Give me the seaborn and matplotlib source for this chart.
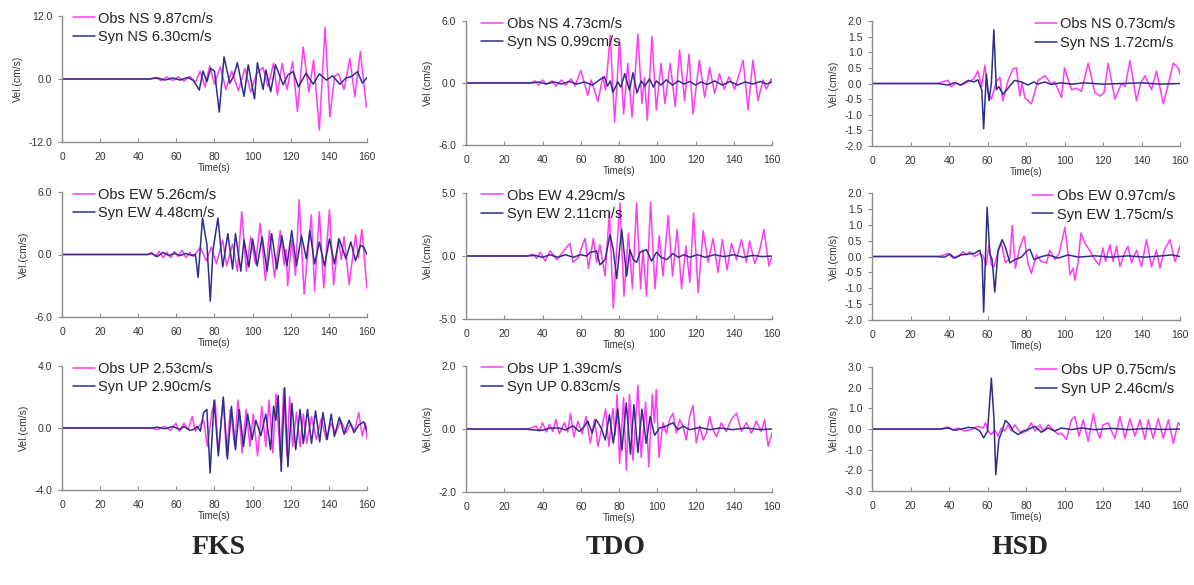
import numpy as np
import pandas as pd
import seaborn as sns
import matplotlib.pyplot as plt

# ---------------------------------------------------------------------------
# Velocity waveforms (time in s, velocity in cm/s), observed vs synthetic.
# Each series is listed as (time, velocity) turning points of the trace.
# ---------------------------------------------------------------------------
FKS_NS_OBS = [(0, 0), (46, 0), (49, 0.3), (52, -0.3), (55, 0.4), (58, -0.3), (61, 0.4), (64, -0.4),
              (67, 0.5), (70, -0.6), (72.5, 1.5), (75, -1.5), (77.5, 2.5), (80, -1.0), (83, 2.3),
              (86, -2.0), (89, 1.5), (92.5, -2.2), (96, 2.0), (99, -2.5), (102, 1.0), (105.5, 2.2),
              (108, -1.5), (111, 3.0), (113, -3.0), (115.5, 3.0), (118, -2.0), (121, 3.3),
              (123.5, -6.2), (126.5, 6.1), (129.5, -2.5), (132, 3.6), (135, -9.7), (138, 9.87),
              (140.5, -7.2), (143, 0.5), (145, 1.0), (148, -2.0), (151, 3.9), (153.6, -3.4),
              (156.5, 5.2), (159.7, -5.3), (160, -5.0)]
FKS_NS_SYN = [(0, 0), (46, 0), (50, 0.2), (54, -0.2), (58, 0.2), (62, -0.2), (66, 0.3), (69, -0.3),
              (72, -2.1), (74, 1.5), (76, -0.5), (78, 2.0), (80, 1.5), (82.5, -6.30), (85, 4.2),
              (88, -0.8), (90, 0.5), (92, 3.1), (95.5, -3.3), (97.7, 2.7), (101, -3.8), (102.5, 3.1),
              (105.5, -2.0), (107, 1.7), (109.5, -2.4), (112, 2.7), (116, -1.1), (118.5, 0.8),
              (121.3, 1.4), (124, -1.5), (128, 1.1), (131.8, -1.0), (135, 1.0), (138.7, -0.2),
              (142, 0.6), (145.7, -1.0), (149, 0.2), (152, 0.5), (155, 1.4), (157.6, -0.8), (160, 0.3)]

TDO_NS_OBS = [(0, 0), (34, 0), (36, 0.2), (38, -0.2), (40, 0.3), (42, -0.1), (45, 0.2), (47, -0.3),
              (50, 0.3), (52, -0.2), (55, 0.4), (57, -0.3), (60, 1.2), (63.7, -1.2), (65.4, 0.3),
              (69, -1.8), (71.5, 0.6), (73, -0.7), (75.4, 4.6), (77.7, -3.8), (80.3, 4.1),
              (82.4, -3.0), (84.6, 1.9), (86.8, -3.3), (89.9, 4.73), (92, -2.0), (93.3, 0.5),
              (94.8, -3.6), (97.2, 4.5), (99.5, -2.6), (102, 1.9), (104, -2.0), (106.8, 1.9),
              (109.4, -2.3), (111.7, 3.2), (114.3, -1.7), (116.6, 2.8), (118.7, -3.0), (122, 2.2),
              (124.8, -1.4), (127.4, 1.5), (130, -1.0), (132.5, 0.9), (135, -0.6), (137.5, 0.6),
              (140.5, -0.6), (144.9, 2.2), (147.5, -2.6), (150, 2.2), (152.7, -1.7), (155.3, 0.3),
              (157, -0.6), (159.7, 0.4), (160, 0.3)]
TDO_NS_SYN = [(0, 0), (34, 0), (38, 0.1), (42, -0.1), (46, 0.1), (50, -0.1), (54, 0.15), (58, -0.1),
              (62, 0.1), (66, -0.2), (69.8, 0.3), (72.4, 0.6), (74, -0.3), (75.5, 0.2), (76.8, -0.9),
              (79.4, 0.1), (81, -0.4), (83, 0.9), (85.5, -0.7), (87.3, 0.99), (89.4, -0.95),
              (91.6, 0.2), (93.5, -0.3), (96, 0.4), (98, -0.4), (99.5, 0.2), (102, -0.2),
              (104.7, 0.3), (108, -0.2), (111, 0.2), (114, -0.1), (117, 0.15), (120, -0.2),
              (123, 0.1), (126, -0.15), (130, 0.2), (134, -0.2), (138, 0.15), (142, -0.2),
              (146, 0.1), (150, -0.1), (154, 0.15), (157, -0.1), (160, 0.1)]

HSD_NS_OBS = [(0, 0), (34, 0), (39.5, 0.1), (41, -0.1), (44, 0.02), (46, -0.06), (50, 0.05),
              (53, 0.15), (55, 0.4), (57, -0.1), (58.6, 0.58), (60.3, -0.3), (62, -0.5),
              (64.6, 0.05), (66.4, 0.2), (68, -0.55), (70.7, 0.1), (73.3, 0.47), (75, 0.5),
              (76.8, -0.4), (78, 0.0), (79.4, -0.45), (82.8, -0.65), (86.3, 0.1), (89.8, 0.25),
              (93, 0.0), (95, 0.05), (98.4, -0.45), (100, 0.5), (103.6, -0.2), (106, -0.15),
              (108.8, -0.25), (112.3, 0.65), (115.8, -0.3), (118.4, -0.4), (120.5, -0.3),
              (122.7, 0.65), (126.2, -0.5), (129.6, 0.0), (131.5, -0.1), (134, 0.73),
              (137.4, -0.55), (139.5, 0.0), (141.8, 0.25), (145.2, -0.2), (147.8, 0.4),
              (151.3, -0.65), (154, 0.0), (156.5, 0.65), (159, 0.5), (160, 0.3)]
HSD_NS_SYN = [(0, 0), (34, 0), (39.5, -0.05), (43, 0.03), (46, -0.05), (50, 0.1), (53, 0.05),
              (55, 0.12), (57, -0.2), (58, -1.45), (59.4, 0.3), (60.8, -0.55), (62, 0.0),
              (63.3, 1.72), (64.6, -0.2), (65.9, -0.1), (68, -0.35), (70.7, -0.15), (74, 0.1),
              (77.6, 0.05), (81, -0.05), (84, 0.05), (86, -0.02), (89.8, 0.05), (93, -0.03),
              (98, 0.02), (104, -0.02), (110, 0.02), (120, -0.02), (130, 0.0), (140, 0.02),
              (150, -0.02), (160, 0.0)]

FKS_EW_OBS = [(0, 0), (45, 0), (47, 0.2), (49, -0.2), (51, 0.3), (53, -0.3), (55, 0.2), (57, -0.3),
              (59, 0.3), (61, -0.2), (63, 0.4), (65, -0.3), (67, 0.2), (69, -0.2), (70.6, 0.2),
              (72.6, 0.7), (75.7, -0.6), (78.3, 0.7), (81, -0.9), (84.3, 1.4), (86.4, -1.1),
              (89.5, 1.0), (92, -1.6), (94.3, 4.1), (96.7, -1.6), (99, 1.7), (101.5, -0.9),
              (104, 3.0), (106.7, -2.5), (108.8, 2.3), (111.5, -2.2), (114.5, 2.3), (116.5, -1.0),
              (117.5, 0.5), (118.4, -3.0), (120.5, 1.4), (122.5, -2.0), (124.4, 5.26),
              (127, -3.8), (130.8, 3.8), (132.5, -3.5), (135, 4.1), (137.3, -3.2), (140.3, 4.3),
              (142.5, -2.9), (145, 1.5), (146.5, -0.5), (148, 1.7), (150.6, -2.9), (154, 1.9),
              (155.5, -0.3), (157.3, 2.4), (160, -3.3)]
FKS_EW_SYN = [(0, 0), (45, 0), (47, 0.1), (50, -0.2), (53, 0.2), (56, -0.1), (59, 0.1), (62, -0.1),
              (65, 0.1), (68, -0.1), (70, 0.0), (71.4, -2.2), (73.7, 3.5), (75.2, 1.8), (76, 1.0),
              (77.8, -4.48), (79.2, 0.4), (81.8, 3.5), (84.3, -1.2), (87, 2.0), (89.5, -1.4),
              (91, 2.0), (93.8, -1.6), (95.5, 1.4), (98, -1.2), (100, 1.5), (102.4, -1.1),
              (105, 1.7), (107.6, -1.6), (110, 2.0), (112.7, -1.4), (115.3, 1.8), (118, -1.1),
              (120.5, 2.3), (123, -1.1), (125.6, 1.8), (128.2, -0.4), (130, 2.3), (132.5, -0.9),
              (135, 1.2), (137.7, -1.1), (140.3, 1.5), (142.9, -0.9), (145.4, 1.5), (148.9, -0.4),
              (151.5, 1.2), (154, -0.6), (156.6, 0.9), (158.3, 0.7), (160, 0.0)]

TDO_EW_OBS = [(0, 0), (32, 0), (35, 0.15), (37, -0.2), (38.8, 0.3), (41.4, -0.4), (44, 0.4),
              (47.5, -0.3), (51, 0.4), (54.4, 1.0), (56, -0.5), (58.8, -0.1), (60.5, 0.7),
              (62.3, 1.4), (64, -1.0), (66.6, 1.4), (68.3, -0.5), (70, 0.9), (72.7, -1.6),
              (75, 3.5), (77, -4.15), (78.8, 0.5), (80.5, 4.2), (82.6, -3.2), (84.9, 1.8),
              (87, -2.6), (89.2, 4.2), (91.3, -2.6), (92.5, 0.5), (94.4, -3.2), (96.5, 4.29),
              (98.8, -2.6), (101, 1.6), (103, -1.6), (105.7, 3.2), (108, -1.6), (110.4, 2.1),
              (112.7, -2.6), (115, 0.8), (117, -2.1), (119, 3.4), (121.4, -2.9), (124, 2.0),
              (126.6, -0.5), (129.2, 1.4), (131.8, -1.3), (134, 1.3), (136.5, -1.1), (138.8, 1.0),
              (141.4, -0.3), (144, 1.3), (146.6, -0.5), (148.3, 1.2), (151, -0.6), (153.6, 0.5),
              (155.8, 2.1), (158.4, -0.8), (160, 0.0)]
TDO_EW_SYN = [(0, 0), (32, 0), (36, 0.05), (40, -0.1), (44, 0.1), (48, -0.1), (52, 0.1), (56, -0.1),
              (60, 0.1), (63, 0.0), (65, 0.3), (68.3, 0.4), (70, -0.7), (72.7, -0.3), (75.3, 1.7),
              (77, 0.5), (78.8, -1.8), (81.4, 2.11), (84, -1.6), (85.7, 0.5), (87.5, -0.3),
              (89.2, -0.5), (91, 0.3), (94.4, 0.5), (97, -0.4), (99.6, 0.3), (102, -0.1),
              (105, -0.3), (108, 0.2), (111, -0.1), (114, 0.1), (117, -0.1), (121, 0.1),
              (125, -0.1), (130, 0.1), (135, -0.05), (140, 0.1), (145, -0.1), (150, 0.05),
              (155, -0.05), (160, 0.0)]

HSD_EW_OBS = [(0, 0), (32.6, 0), (36, 0.02), (39.5, 0.1), (42, -0.05), (45.6, 0.05), (47.3, 0.15),
              (49, 0.05), (50.8, 0.15), (53.4, 0.0), (56, 0.1), (57.7, 0.02), (59.4, -0.27),
              (60.7, 0.37), (62, -0.27), (63.4, -0.32), (65.5, 0.15), (67.2, 0.42), (69.3, -0.2),
              (71.6, -0.05), (72.8, 0.97), (74.5, -0.37), (76.8, 0.3), (79, 0.64), (81, -0.2),
              (82.8, -0.53), (85.4, 0.05), (88, -0.16), (90.6, -0.2), (92.4, 0.2), (95, -0.1),
              (97.2, 0.1), (100.2, 0.92), (102, 0.0), (102.8, -0.58), (104.5, -0.37),
              (105.4, -0.75), (107, -0.2), (108.5, 0.74), (110.6, 0.42), (113, 0.2), (115.8, -0.1),
              (118, -0.27), (120, 0.27), (121.3, -0.16), (123.6, 0.37), (125.3, -0.16),
              (127, 0.32), (128.8, -0.32), (131.4, 0.15), (133, 0.32), (134.8, -0.2),
              (137.4, 0.2), (140, -0.32), (142.6, 0.53), (145.2, -0.32), (147.8, 0.2),
              (149.6, -0.37), (151.8, 0.2), (154.8, 0.53), (157.4, -0.16), (160, 0.32)]
HSD_EW_SYN = [(0, 0), (32.6, 0), (37.8, -0.02), (40.4, 0.08), (43, -0.05), (46.4, 0.05), (50, 0.08),
              (53.4, 0.1), (56, 0.2), (57.2, -0.1), (58, -1.75), (59.8, 1.55), (61.2, 0.1),
              (62.4, -0.1), (63.8, -1.12), (65.5, 0.2), (67.6, 0.53), (69.3, 0.3), (71.6, -0.2),
              (74.2, -0.1), (77.6, -0.02), (80.2, 0.16), (82, 0.23), (84.2, -0.1), (87.2, -0.02),
              (91.5, 0.05), (96.7, -0.05), (101.9, 0.05), (107.1, -0.02), (115.8, 0.02),
              (124.4, -0.02), (133, 0.02), (141.8, -0.02), (150.4, 0.02), (155.6, 0.05), (160, 0.0)]

FKS_UP_OBS = [(0, 0), (46.8, 0), (50, -0.1), (53.7, 0.1), (57, -0.15), (59.7, 0.3), (61.4, -0.2),
              (64, 0.3), (66.2, -0.1), (68.3, 0.75), (70, -0.2), (71.7, 0.1), (74.3, 0.5),
              (76.3, -1.2), (78.6, 1.0), (80.3, 1.8), (82, -1.6), (84.6, 1.9), (86.3, -1.8),
              (88.3, 1.2), (90.6, -1.2), (92.3, 1.8), (94.5, -1.6), (96.6, 1.2), (98.6, -1.2),
              (100.3, 0.9), (102.6, -1.8), (104.8, 1.4), (106.9, -1.2), (108.6, 1.8), (110.6, -1.6),
              (112.3, 2.2), (114.6, -2.0), (116.3, 2.53), (118, -1.8), (119.4, 2.0), (121, -1.2),
              (123, 1.0), (124.9, -1.2), (126.6, 0.9), (128.3, -1.0), (130.9, 0.75),
              (133.4, -0.75), (136, 0.6), (138.6, -0.75), (141, 0.3), (143.7, -0.3), (146.3, 0.5),
              (149, -0.3), (151.5, 0.3), (153.5, -0.2), (155.7, 1.0), (157.5, -0.5), (159.2, 0.3),
              (160, -0.7)]
FKS_UP_SYN = [(0, 0), (46.8, 0), (50, 0.05), (54, -0.05), (58, 0.1), (62, -0.1), (64, 0.1),
              (67, -0.15), (69, -0.1), (71, 0.1), (72.6, -0.2), (74.3, 1.0), (76, 1.2),
              (77.7, -2.90), (79.8, 1.8), (82, -1.8), (84.6, 2.0), (86.8, -2.0), (88.9, 1.4),
              (91, -1.4), (93, 1.2), (95.2, -1.2), (97.4, 0.9), (99.7, -0.75), (101.7, 0.5),
              (104.3, -0.5), (106.9, 0.9), (109.4, -1.4), (111, 1.4), (112.2, 0.5), (113.4, 2.1),
              (115, -2.8), (116.8, 2.6), (118.5, -2.5), (120.6, 1.6), (122.6, -1.4), (124.9, 1.2),
              (126.6, -1.0), (128.8, 1.2), (130.9, -1.0), (133, 1.1), (135.2, -0.9), (136.9, 1.0),
              (139.1, -0.75), (141.2, 0.9), (142.9, -0.55), (145.5, 0.7), (148, -0.4),
              (150.6, 0.5), (153.2, -0.3), (155.7, 0.2), (158.3, 0.4), (160, -0.2)]

TDO_UP_OBS = [(0, 0), (31.4, 0), (35, 0.05), (36.6, 0.1), (38.4, -0.08), (40, 0.2), (42, -0.1),
              (43.6, 0.15), (45.4, -0.08), (47, 0.3), (48.8, -0.15), (51.5, 0.2), (53.2, -0.1),
              (54.6, 0.5), (56.4, -0.25), (58.5, 0.25), (60.7, -0.15), (62.8, 0.4), (65, -0.45),
              (67.2, 0.3), (69, -0.55), (71.2, 0.1), (73, 0.63), (74.7, -0.55), (76.8, 0.65),
              (78, -0.2), (79, 1.1), (80.3, -1.1), (82.4, 1.0), (83.8, -1.3), (85.5, 1.1),
              (87.3, -1.0), (89.9, 1.39), (91.6, -0.9), (93.9, 0.85), (95.6, -1.2), (97.4, 1.1),
              (98.5, 0.2), (99.5, 1.25), (100.9, -0.9), (103, 0.2), (104.7, -0.13), (106.5, 0.3),
              (108.2, 0.5), (110, -0.13), (111.7, 0.3), (113.4, 0.1), (115.2, -0.35), (117, 0.4),
              (118.7, 0.75), (120.4, -0.45), (122.2, 0.1), (124, -0.35), (125.7, -0.13),
              (127.4, 0.4), (129, 0.0), (131, -0.25), (133.5, 0.2), (136, -0.08), (138.7, 0.3),
              (141.4, 0.5), (144, -0.08), (146.6, 0.2), (149.2, -0.13), (151.8, 0.25),
              (154.4, -0.08), (156.2, 0.3), (158, -0.55), (160, -0.13)]
TDO_UP_SYN = [(0, 0), (31.4, 0), (35, -0.03), (40, -0.04), (44, 0.03), (48.8, 0.03), (52, -0.03),
              (56, 0.1), (59.3, -0.08), (61.5, 0.05), (63.7, 0.25), (66, -0.13), (68, 0.3),
              (70.7, 0.03), (72.8, -0.35), (75, 0.45), (77, -0.45), (79.4, 0.63), (81.5, -0.68),
              (83.8, 0.83), (86, -0.8), (87.8, 0.77), (89.9, -0.75), (92, 0.63), (94.2, -0.45),
              (96.3, 0.4), (98.6, -0.2), (101.2, 0.03), (104.7, 0.09), (108.2, 0.2),
              (110.8, -0.02), (113.4, 0.09), (117, -0.02), (122.2, 0.05), (127.4, -0.02),
              (132.7, 0.03), (139.6, -0.02), (146.6, 0.03), (153.6, -0.02), (160, 0.0)]

HSD_UP_OBS = [(0, 0), (36, 0), (39.5, 0.1), (42, -0.06), (44.7, 0.05), (48, -0.1), (51.6, -0.03),
              (55, 0.13), (57.7, 0.05), (59, 0.3), (60.3, -0.1), (62, -0.27), (63.8, -0.06),
              (65.5, -0.35), (67.2, 0.05), (69, -0.1), (70.7, 0.2), (72.4, -0.1), (74.2, 0.2),
              (75.9, -0.03), (77.6, -0.2), (80.2, -0.1), (82.8, 0.3), (84.6, -0.1), (87.2, 0.2),
              (88.9, -0.1), (91.5, 0.2), (94.1, -0.03), (96.7, -0.27), (98.4, -0.2), (101, -0.5),
              (103.6, 0.45), (105.4, 0.6), (107.5, -0.35), (109.7, 0.45), (112.3, -0.6),
              (115, 0.75), (116.6, -0.03), (118.4, -0.45), (120, 0.2), (122.7, 0.3),
              (124.4, -0.1), (126.2, -0.45), (128.8, 0.6), (131.4, -0.45), (134, 0.5),
              (136.6, -0.35), (139.2, 0.45), (141.8, -0.5), (143.5, 0.45), (146, -0.45),
              (148.7, 0.5), (151.3, -0.45), (154, 0.45), (156.5, -0.7), (159, 0.3), (160, 0.2)]
HSD_UP_SYN = [(0, 0), (36, 0), (39.5, 0.05), (43, -0.06), (46.4, 0.0), (50, 0.08), (53.4, 0.05),
              (56, -0.1), (58, -0.43), (60, -0.1), (61.2, 1.4), (62, 2.46), (63.3, 0.6),
              (64.3, -2.2), (65.9, -0.5), (67.2, -0.2), (69.3, 0.42), (71.6, 0.2), (73.3, -0.1),
              (75.9, -0.27), (78.5, -0.1), (81.1, -0.03), (84.6, 0.13), (88, -0.16), (91.5, 0.05),
              (94.9, -0.1), (98.4, 0.05), (103.6, -0.03), (108.8, 0.05), (115.8, -0.03),
              (124.4, 0.03), (133, -0.03), (141.8, 0.02), (150.4, -0.02), (160, 0.0)]

STATIONS = ["FKS", "TDO", "HSD"]
COMPONENTS = ["NS", "EW", "UP"]
TIME_TICKS = [0, 20, 40, 60, 80, 100, 120, 140, 160]

# y tick values per station (columns) and component (rows)
Y_TICKS = {
    ("FKS", "NS"): [-12.0, 0.0, 12.0],
    ("FKS", "EW"): [-6.0, 0.0, 6.0],
    ("FKS", "UP"): [-4.0, 0.0, 4.0],
    ("TDO", "NS"): [-6.0, 0.0, 6.0],
    ("TDO", "EW"): [-5.0, 0.0, 5.0],
    ("TDO", "UP"): [-2.0, 0.0, 2.0],
    ("HSD", "NS"): [-2.0, -1.5, -1.0, -0.5, 0.0, 0.5, 1.0, 1.5, 2.0],
    ("HSD", "EW"): [-2.0, -1.5, -1.0, -0.5, 0.0, 0.5, 1.0, 1.5, 2.0],
    ("HSD", "UP"): [-3.0, -2.0, -1.0, 0.0, 1.0, 2.0, 3.0],
}

TRACES = {
    ("FKS", "NS"): (FKS_NS_OBS, FKS_NS_SYN), ("FKS", "EW"): (FKS_EW_OBS, FKS_EW_SYN),
    ("FKS", "UP"): (FKS_UP_OBS, FKS_UP_SYN), ("TDO", "NS"): (TDO_NS_OBS, TDO_NS_SYN),
    ("TDO", "EW"): (TDO_EW_OBS, TDO_EW_SYN), ("TDO", "UP"): (TDO_UP_OBS, TDO_UP_SYN),
    ("HSD", "NS"): (HSD_NS_OBS, HSD_NS_SYN), ("HSD", "EW"): (HSD_EW_OBS, HSD_EW_SYN),
    ("HSD", "UP"): (HSD_UP_OBS, HSD_UP_SYN),
}

# ---------------------------------------------------------------------------
sns.set_style("ticks")
plt.rcParams["font.family"] = ["Liberation Sans", "DejaVu Sans"]
plt.rcParams["axes.unicode_minus"] = False

OBS_COLOR = "#FF3CF5"
SYN_COLOR = "#2E2E86"
AXIS_COLOR = "#8C8C8C"
TEXT_COLOR = "#333333"

W, H = 1194, 585
fig = plt.figure(figsize=(W / 100, H / 100), dpi=100)

# panel frames in pixels: (left, right) per column, (top, bottom) per cell
COL_X = [(62, 367), (466, 772), (872, 1180)]
ROW_Y = [[(16, 142), (192, 317), (366, 490)],
         [(21, 145), (193, 319), (366, 492)],
         [(21, 146), (193, 320), (367, 491)]]

for ci, st in enumerate(STATIONS):
    for ri, comp in enumerate(COMPONENTS):
        x0, x1 = COL_X[ci]
        y0, y1 = ROW_Y[ci][ri]
        ax = fig.add_axes([x0 / W, 1 - y1 / H, (x1 - x0) / W, (y1 - y0) / H])
        obs, syn = TRACES[(st, comp)]
        obs_df = pd.DataFrame(obs, columns=["t", "v"])
        syn_df = pd.DataFrame(syn, columns=["t", "v"])
        obs_lbl = f"Obs {comp} {obs_df['v'].abs().max():.2f}cm/s"
        syn_lbl = f"Syn {comp} {syn_df['v'].abs().max():.2f}cm/s"
        sns.lineplot(data=obs_df, x="t", y="v", ax=ax, color=OBS_COLOR, lw=1.1,
                     sort=False, estimator=None, label=obs_lbl, legend=False)
        sns.lineplot(data=syn_df, x="t", y="v", ax=ax, color=SYN_COLOR, lw=1.1,
                     sort=False, estimator=None, label=syn_lbl, legend=False)

        yt = Y_TICKS[(st, comp)]
        ax.set_xlim(0, 160)
        ax.set_ylim(yt[0], yt[-1])
        ax.set_xticks(TIME_TICKS)
        ax.set_xticklabels([str(t) for t in TIME_TICKS])
        ax.set_yticks(yt)
        ax.set_yticklabels([f"{v:.1f}" for v in yt])
        ax.tick_params(axis="x", direction="in", length=3, width=0.8, color=AXIS_COLOR,
                       labelsize=7.5, pad=7, labelcolor=TEXT_COLOR)
        ax.tick_params(axis="y", direction="out", length=3, width=0.8, color=AXIS_COLOR,
                       labelsize=7.5, pad=4, labelcolor=TEXT_COLOR)
        sns.despine(ax=ax)
        for side in ("left", "bottom"):
            ax.spines[side].set_color(AXIS_COLOR)
            ax.spines[side].set_linewidth(1.0)
        ax.set_xlabel("Time(s)", fontsize=7, labelpad=1, color=TEXT_COLOR)
        ax.set_ylabel("Vel.(cm/s)", fontsize=7.5, labelpad=4, color=TEXT_COLOR)

        handles = ax.get_lines()[:2]
        labels = [obs_lbl, syn_lbl]
        if ci < 2:
            loc, anchor = "upper left", (0.035 if ci == 0 else 0.05, 1.035)
        else:
            loc, anchor = "upper right", (0.985, 1.03)
        leg = ax.legend(handles, labels, loc=loc, bbox_to_anchor=anchor,
                        frameon=False, fontsize=10.5, handlelength=1.5, handletextpad=0.25,
                        labelspacing=0.3, borderpad=0, borderaxespad=0)
        for txt in leg.get_texts():
            txt.set_color("#222222")

# station names below each column
for st, xc in zip(STATIONS, [219, 616, 1020]):
    fig.text(xc / W, 1 - 548 / H, st, ha="center", va="center", fontsize=20,
             fontweight="bold", family=["Liberation Serif", "DejaVu Serif"])

fig.savefig("out.png", dpi=100)
